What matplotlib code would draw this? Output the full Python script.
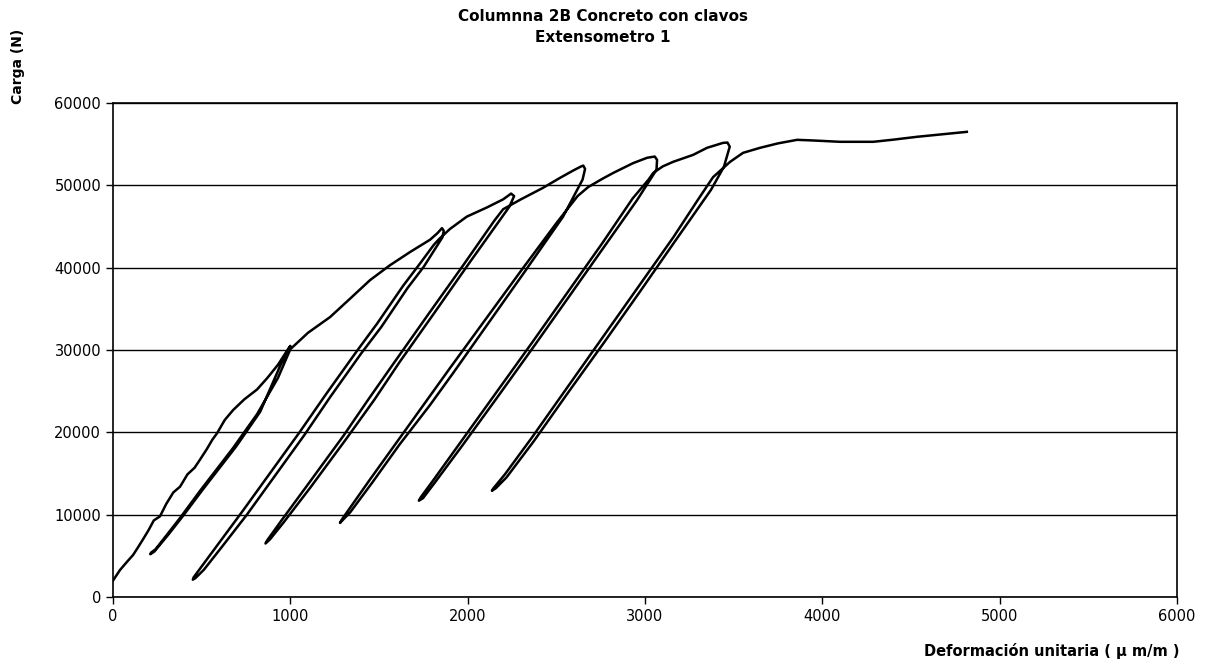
import matplotlib
matplotlib.use("Agg")
import matplotlib.pyplot as plt

# Deformación unitaria (µm/m) y carga (N), tramo por tramo
# carga inicial hasta ~30000 N
def_a = [0, 40, 80, 113, 140, 169, 200, 230, 265, 300, 340, 378, 420, 460, 491,
         530, 560, 587, 630, 677, 740, 812, 870, 930, 990, 1000]
car_a = [2000, 3300, 4300, 5100, 6000, 7000, 8100, 9300, 9800, 11300, 12700, 13400,
         14900, 15700, 16700, 18000, 19100, 19900, 21500, 22700, 24000, 25200,
         26600, 28200, 30200, 30500]
# descarga 1
def_b = [990, 945, 830, 695, 508, 393, 313, 232, 210]
car_b = [30100, 28200, 22500, 18300, 13100, 9800, 7600, 5500, 5200]
# recarga 1 + envolvente hasta pico 1
def_c = [215, 240, 378, 491, 677, 812, 930, 1000, 1100, 1224, 1340, 1450, 1562,
         1675, 1788, 1830, 1855]
car_c = [5400, 5800, 9600, 12900, 18100, 22200, 26600, 30100, 32100, 34000, 36300,
         38500, 40300, 41900, 43400, 44200, 44800]
# descarga 2
def_d = [1865, 1858, 1752, 1660, 1513, 1400, 1225, 1080, 755, 618, 512, 465, 450]
car_d = [44500, 43700, 40100, 37500, 32800, 29600, 24300, 19700, 10000, 6200, 3300,
         2300, 2100]
# recarga 2 + envolvente hasta pico 2
def_e = [455, 520, 733, 1055, 1200, 1376, 1489, 1636, 1731, 1810, 1840, 1900, 1995,
         2107, 2200, 2245]
car_e = [2400, 4300, 10500, 20100, 24600, 29900, 33200, 37800, 40500, 42800, 43500,
         44700, 46200, 47300, 48300, 49000]
# descarga 3
def_f = [2262, 2235, 2010, 1815, 1615, 1475, 1315, 1113, 960, 885, 860]
car_f = [48700, 47400, 40600, 34600, 28500, 24000, 19200, 13300, 9000, 7000, 6500]
# recarga 3 + envolvente hasta pico 3
def_g = [870, 950, 1100, 1300, 1440, 1580, 1780, 1975, 2150, 2200, 2300, 2425,
         2520, 2595, 2640, 2652]
car_g = [6900, 9300, 13700, 19600, 24000, 28300, 34400, 40300, 45700, 47100, 48300,
         49700, 50900, 51800, 52300, 52400]
# descarga 4
def_h = [2662, 2648, 2538, 2318, 2118, 1918, 1787, 1615, 1462, 1338, 1280]
car_h = [52000, 50700, 46200, 39400, 33300, 27200, 23300, 18500, 13900, 10300, 9000]
# recarga 4 + envolvente hasta pico 4
def_i = [1290, 1450, 1600, 1760, 1900, 2100, 2300, 2500, 2620, 2680, 2760, 2820,
         2933, 3012, 3055]
car_i = [9400, 14300, 18800, 23600, 27800, 33700, 39600, 45400, 48700, 49800, 50800,
         51500, 52700, 53350, 53500]
# descarga 5
def_j = [3068, 3065, 2955, 2772, 2572, 2372, 2172, 1970, 1815, 1748, 1725]
car_j = [53100, 51900, 48200, 42600, 36500, 30400, 24400, 18400, 13900, 12000, 11700]
# recarga 5 + envolvente hasta pico 5
def_k = [1735, 1810, 1960, 2160, 2360, 2560, 2760, 2930, 3020, 3046, 3100, 3159,
         3271, 3350, 3440, 3465]
car_k = [12100, 14300, 18800, 24800, 30800, 36900, 43000, 48400, 50700, 51500,
         52300, 52860, 53700, 54560, 55160, 55200]
# descarga 6
def_l = [3478, 3445, 3372, 3172, 2972, 2772, 2572, 2372, 2218, 2158, 2137]
car_l = [54700, 52250, 49450, 43300, 37100, 31000, 25000, 18900, 14500, 13200, 12900]
# recarga 6 + rama final
def_m = [2145, 2210, 2360, 2560, 2760, 2960, 3160, 3300, 3384, 3480, 3553, 3649,
         3750, 3858, 3950, 4100, 4287, 4400, 4535, 4700, 4815]
car_m = [13200, 14900, 19300, 25400, 31500, 37600, 43700, 48300, 51000, 52860,
         53950, 54560, 55100, 55530, 55450, 55290, 55290, 55550, 55900, 56250, 56500]

deformacion = def_a + def_b + def_c + def_d + def_e + def_f + def_g + def_h + def_i + def_j + def_k + def_l + def_m
carga = car_a + car_b + car_c + car_d + car_e + car_f + car_g + car_h + car_i + car_j + car_k + car_l + car_m

x_ticks = [0, 1000, 2000, 3000, 4000, 5000, 6000]
y_ticks = [0, 10000, 20000, 30000, 40000, 50000, 60000]

fig = plt.figure(figsize=(12.1, 6.66), dpi=100)
ax = fig.add_axes([0.0934, 0.1036, 0.8793, 0.7417])

ax.plot(deformacion, carga, color="black", lw=1.8, solid_joinstyle="round")

ax.set_xlim(0, 6000)
ax.set_ylim(0, 60000)
ax.set_xticks(x_ticks)
ax.set_yticks(y_ticks)
ax.tick_params(direction="out", length=5, width=1, labelsize=10.5, colors="black")
ax.yaxis.grid(True, color="black", lw=1)
ax.set_axisbelow(True)
for s in ax.spines.values():
    s.set_linewidth(1.2)

fig.text(0.498, 0.975, "Columnna 2B Concreto con clavos", ha="center", va="center",
         fontsize=11, fontweight="bold")
fig.text(0.498, 0.943, "Extensometro 1", ha="center", va="center",
         fontsize=11, fontweight="bold")
fig.text(0.015, 0.9, "Carga (N)", rotation=90, ha="center", va="center",
         fontsize=10, fontweight="bold")
fig.text(0.975, 0.022, "Deformación unitaria ( µ m/m )", ha="right", va="center",
         fontsize=10.5, fontweight="bold")

fig.savefig("out.png", dpi=100)
